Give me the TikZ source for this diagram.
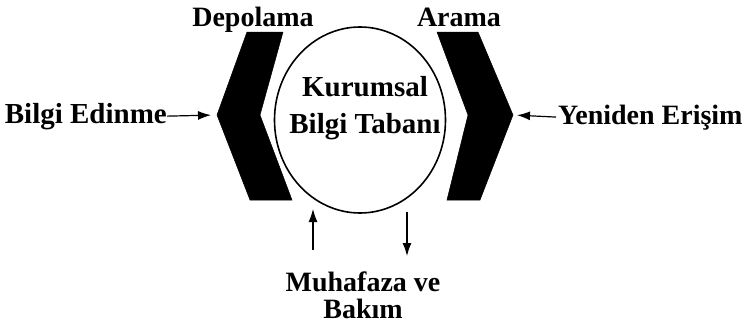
\documentclass[tikz,border=0pt]{standalone}
\usepackage{fontspec}
\setmainfont{Liberation Serif}
\usepackage{tikz}
\usetikzlibrary{arrows.meta,shapes.geometric}
\tikzset{
    myellipse/.style={ellipse, draw=black, line width=1.6pt, minimum width=171pt, minimum height=186pt, inner sep=0pt},
    mychevron/.style={fill=black, draw=black, line width=0.5pt, line join=miter},
    mylabel/.style={inner sep=0pt, font=\bfseries\fontsize{29}{37}\selectfont, align=center},
    mysmall/.style={font=\bfseries\fontsize{28}{27}\selectfont},
    myarrow/.style={-{Latex[length=13pt,width=9pt]}, line width=1.2pt}
}

\begin{document}
\begin{tikzpicture}[x=1pt, y=-1pt]
\useasboundingbox (0,0) rectangle (747,324);

% knowledge base in the middle
\node[myellipse] (kb) at (360,120) {};
\node[mylabel] (kbtext) at (365,108) {Kurumsal\\Bilgi Tabanı};

% the two chevrons
\draw[mychevron] (247,32) -- (283,32) -- (260,115) -- (292,200) -- (250,200) -- (217,115) -- cycle;
\draw[mychevron] (437,32) -- (478,32) -- (513,115) -- (480,200) -- (447,200) -- (468,115) -- cycle;
\coordinate (ltip) at (217,115);
\coordinate (rtip) at (513,115);

% labels
\node[mylabel, mysmall, anchor=base] (depolama) at (253,26) {Depolama};
\node[mylabel, mysmall, anchor=base] (arama) at (459,26) {Arama};
\node[mylabel, anchor=base east] (edinme) at (167,123) {Bilgi Edinme};
\node[mylabel, mysmall, anchor=base west] (erisim) at (558,124) {Yeniden Erişim};
\node[mylabel, mysmall, anchor=north] (bakim) at (363,272) {Muhafaza ve\\Bakım};

% arrows
\coordinate (upfoot) at (313,250);
\coordinate (uphead) at (313,209);
\coordinate (downfoot) at (407,212);
\coordinate (downhead) at (407,256);

\draw[myarrow, shorten >=6pt] (edinme.east) -- (ltip);
\draw[myarrow, shorten >=4pt, shorten <=2pt] (erisim.west) -- (rtip);
\draw[myarrow] (upfoot) -- (uphead);
\draw[myarrow] (downfoot) -- (downhead);

\end{tikzpicture}
\end{document}
